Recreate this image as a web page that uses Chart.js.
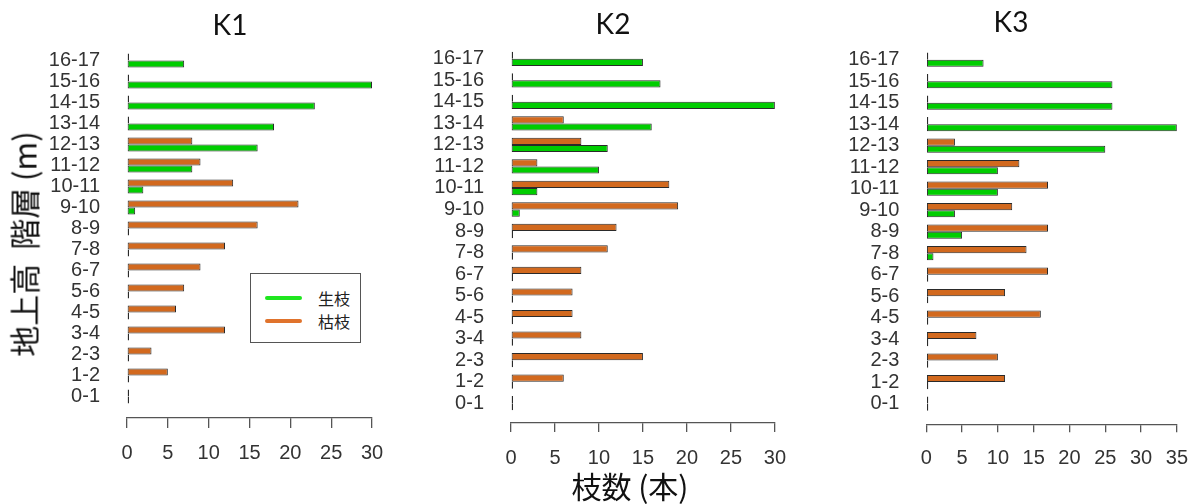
<!DOCTYPE html>
<html><head><meta charset="utf-8">
<script src="https://cdn.jsdelivr.net/npm/chart.js@4"></script>
<style>
html,body{margin:0;padding:0;background:#fff;}
#wrap{position:relative;width:1202px;height:504px;overflow:hidden;}
.panel{position:absolute;top:0;height:504px;}
.ttl{position:absolute;font-family:Lato,'Open Sans',sans-serif;font-size:28px;color:#111;transform:translate(-50%,-50%);white-space:nowrap;line-height:1;}
.axt{position:absolute;font-family:'Noto Sans CJK JP',sans-serif;font-size:30px;color:#111;white-space:pre;line-height:1;}
#legend{position:absolute;left:250px;top:273px;width:109px;height:68px;border:1px solid #555;background:#fff;}
.lrow{position:absolute;left:14px;height:20px;width:95px;}
.lline{position:absolute;left:0;top:8px;width:37px;height:4px;border-radius:2px;}
.ltxt{position:absolute;left:53px;top:0;font-family:'Noto Sans CJK JP',sans-serif;font-size:16px;line-height:20px;color:#222;}
</style>
</head><body>
<div id="wrap">
  <div class="panel" style="left:0;width:400px"><canvas id="c1" width="400" height="504"></canvas></div>
  <div class="panel" style="left:400px;width:400px"><canvas id="c2" width="400" height="504"></canvas></div>
  <div class="panel" style="left:800px;width:402px"><canvas id="c3" width="402" height="504"></canvas></div>
  <div class="ttl" style="left:230px;top:24px">K1</div>
  <div class="ttl" style="left:613px;top:23px">K2</div>
  <div class="ttl" style="left:1011px;top:21px">K3</div>
  <div class="axt" style="left:23px;top:244px;font-size:31px;transform:translate(-50%,-50%) rotate(-90deg)">地上高  階層 (m)</div>
  <div class="axt" style="left:630px;top:485px;transform:translate(-50%,-50%)">枝数 (本)</div>
  <div id="legend">
    <div class="lrow" style="top:14px"><div class="lline" style="background:#1fe61f"></div><div class="ltxt">生枝</div></div>
    <div class="lrow" style="top:37px"><div class="lline" style="background:#e0732c"></div><div class="ltxt">枯枝</div></div>
  </div>
</div>
<script>
// height classes (m), bottom to top
const heightClasses = ['0-1','1-2','2-3','3-4','4-5','5-6','6-7','7-8','8-9','9-10','10-11','11-12','12-13','13-14','14-15','15-16','16-17'];
// 生枝 (live branches) and 枯枝 (dead branches) per plot
const k1Live = [0,0,0,0,0,0,0,0,0,1,2,8,16,18,23,30,7];
const k1Dead = [0,5,3,12,6,7,9,12,16,21,13,9,8,0,0,0,0];
const k2Live = [0,0,0,0,0,0,0,0,0,1,3,10,11,16,30,17,15];
const k2Dead = [0,6,15,8,7,7,8,11,12,19,18,3,8,6,0,0,0];
const k3Live = [0,0,0,0,0,0,0,1,5,4,10,10,25,35,26,26,8];
const k3Dead = [0,11,10,7,16,11,17,14,17,12,17,13,4,0,0,0,0];
const ticks30 = [0,5,10,15,20,25,30];
const ticks35 = [0,5,10,15,20,25,30,35];
const seriesNames = ['枯枝','生枝'];

const GREEN = '#00cd00', ORANGE = '#d2691e', EDGE = '#2a2a2a';
const tickFont = {family:"'Liberation Sans', Arial, sans-serif", size:20};

function makeChart(id, live, dead, xTicks, cfg){
  const toPts = arr => arr.map((v,i)=>({x:v, y:i}));
  return new Chart(document.getElementById(id), {
    type:'bar',
    data:{datasets:[
      {label:seriesNames[0], data:toPts(dead), backgroundColor:ORANGE},
      {label:seriesNames[1], data:toPts(live), backgroundColor:GREEN}
    ]},
    options:{
      indexAxis:'y', responsive:false, animation:false, devicePixelRatio:1,
      datasets:{bar:{categoryPercentage:2/3, barPercentage:1, borderWidth:1, borderColor:EDGE, borderSkipped:false, minBarLength:2, inflateAmount:0}},
      layout:{padding:{left:0,right:cfg.right,top:cfg.top,bottom:0}},
      plugins:{legend:{display:false}, tooltip:{enabled:false}, title:{display:false}},
      scales:{
        x:{type:'linear', min:0, max:xTicks[xTicks.length-1], offset:false,
          afterBuildTicks:s=>{s.ticks = xTicks.map(v=>({value:v}));},
          grid:{display:true, drawOnChartArea:false, drawTicks:true, tickLength:cfg.tickLen, color:'#555', lineWidth:1.3},
          border:{display:true, color:'#555', width:1.3},
          ticks:{padding:cfg.xpad, color:'#333', font:tickFont, maxRotation:0, autoSkip:false},
          afterFit:s=>{s.height = cfg.xh;}
        },
        y:{type:'linear', min:cfg.ymin, max:cfg.ymax, offset:false,
          afterBuildTicks:s=>{s.ticks = heightClasses.map((_,i)=>({value:i}));},
          grid:{display:false, drawTicks:false, offset:false}, border:{display:false},
          ticks:{callback:v=>heightClasses[v], autoSkip:false, padding:27, color:'#333', font:tickFont},
          afterFit:s=>{s.width = cfg.yw;}
        }
      }
    }
  });
}
makeChart('c1', k1Live, k1Dead, ticks30, {right:28, top:30, xh:86, yw:127, ymin:-1.02, ymax:17.02, tickLen:10, xpad:13});
makeChart('c2', k2Live, k2Dead, ticks30, {right:23.3, top:29.7, xh:81, yw:111, ymin:-0.92, ymax:16.92, tickLen:9, xpad:14});
makeChart('c3', k3Live, k3Dead, ticks35, {right:18.7, top:33.3, xh:79.7, yw:126.3, ymin:-0.963, ymax:16.963, tickLen:8, xpad:14});
</script>
</body></html>
